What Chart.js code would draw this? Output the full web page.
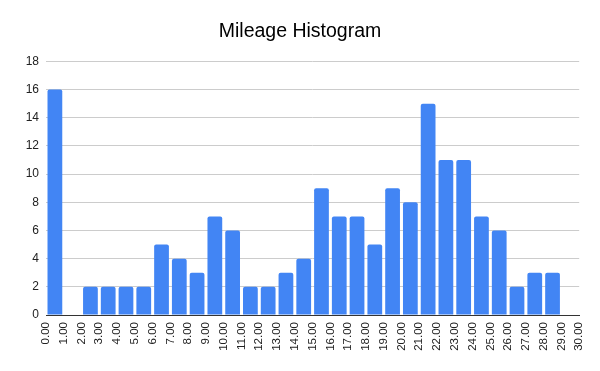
<!DOCTYPE html>
<html>
<head>
<meta charset="utf-8">
<script src="https://cdn.jsdelivr.net/npm/chart.js"></script>
<style>
html,body{margin:0;padding:0;background:#fff;}
#wrap{width:600px;height:371px;position:relative;}
</style>
</head>
<body>
<div id="wrap"><canvas id="c"></canvas></div>
<script>
const binStarts = [0,1,2,3,4,5,6,7,8,9,10,11,12,13,14,15,16,17,18,19,20,21,22,23,24,25,26,27,28,29];
const counts = [16,0,2,2,2,2,5,4,3,7,6,2,2,3,4,9,7,7,5,9,8,15,11,11,7,6,2,3,3,0];
const yTicks = [0,2,4,6,8,10,12,14,16,18];
const title = "Mileage Histogram";

const points = binStarts.map((s,i)=>({x: s + 0.5, y: counts[i]}));

new Chart(document.getElementById('c'), {
  type: 'bar',
  data: {
    datasets: [{
      data: points,
      backgroundColor: '#4285F4',
      borderRadius: 2,
      borderSkipped: 'start',
      barPercentage: 0.83,
      categoryPercentage: 1
    }]
  },
  options: {
    responsive: true,
    maintainAspectRatio: false,
    animation: false,
    layout: { padding: 0 },
    plugins: {
      legend: { display: false },
      tooltip: { enabled: false },
      title: {
        display: true,
        text: title,
        color: '#000',
        font: { family: 'Liberation Sans, Arial, sans-serif', size: 19.5, weight: 'normal' },
        padding: { top: 19.5, bottom: 18.5 }
      }
    },
    scales: {
      x: {
        type: 'linear',
        min: 0,
        max: 30,
        offset: false,
        grid: { display: false, drawTicks: false },
        border: { display: true, color: '#333', width: 1 },
        afterFit: (s) => { s.height = 56; },
        afterBuildTicks: (s) => { s.ticks = binStarts.concat([30]).map(v => ({value: v})); },
        ticks: {
          autoSkip: false,
          maxRotation: 90,
          minRotation: 90,
          padding: 7,
          color: '#222',
          font: { family: 'Liberation Sans, Arial, sans-serif', size: 11.5 },
          callback: (v) => Number(v).toFixed(2)
        }
      },
      y: {
        min: 0,
        max: 18,
        grid: { color: '#cccccc', drawTicks: false },
        border: { display: false },
        afterFit: (s) => { s.width = 46; },
        afterBuildTicks: (s) => { s.ticks = yTicks.map(v => ({value: v})); },
        ticks: {
          padding: 7,
          color: '#222',
          font: { family: 'Liberation Sans, Arial, sans-serif', size: 12 }
        }
      },
      yRight: {
        position: 'right',
        min: 0,
        max: 18,
        grid: { display: false, drawTicks: false },
        border: { display: false },
        ticks: { display: false },
        afterFit: (s) => { s.width = 17; }
      }
    }
  }
});
</script>
</body>
</html>
